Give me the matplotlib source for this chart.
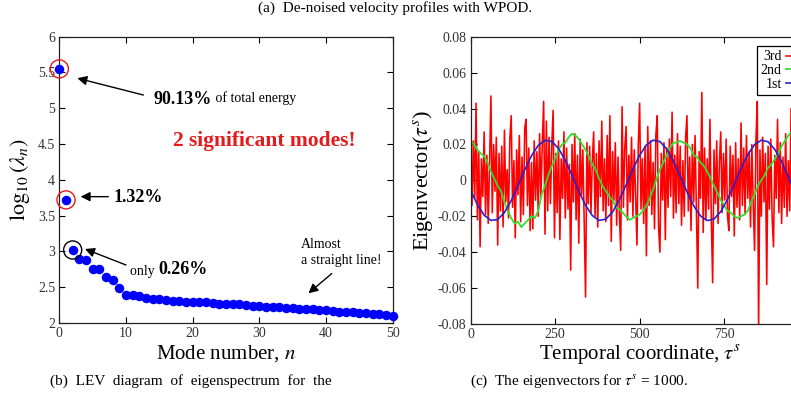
import numpy as np
import matplotlib
matplotlib.use("Agg")
import matplotlib.pyplot as plt

plt.rcParams['font.family'] = ['Liberation Serif', 'DejaVu Serif']
plt.rcParams['mathtext.fontset'] = 'stix'

# (b) eigenspectrum, log10 of eigenvalue per mode
modes = np.arange(51)
log_lev = [5.55, 3.72, 3.02, 2.90, 2.88, 2.75, 2.75, 2.64, 2.60, 2.49,
           2.39, 2.39, 2.38, 2.35, 2.34, 2.33, 2.32, 2.31, 2.31, 2.30,
           2.30, 2.29, 2.29, 2.28, 2.27, 2.27, 2.26, 2.26, 2.25, 2.24,
           2.24, 2.23, 2.23, 2.22, 2.21, 2.21, 2.20, 2.20, 2.19, 2.18,
           2.18, 2.17, 2.16, 2.16, 2.15, 2.14, 2.14, 2.13, 2.12, 2.11,
           2.10]

# (c) eigenvectors (values x 1e-3)
t_blue = np.arange(0, 1001, 20)
first = [-5.6, -13.5, -19.4, -22.3, -21.8, -17.9, -11.3, -3.0, 5.8, 13.7,
         19.5, 22.3, 21.7, 17.8, 11.1, 2.8, -6.0, -13.9, -19.6, -22.3,
         -21.6, -17.6, -10.9, -2.5, 6.2, 14.0, 19.7, 22.4, 21.6, 17.5,
         10.7, 2.3, -6.4, -14.2, -19.8, -22.4, -21.5, -17.4, -10.6, -2.1,
         6.7, 14.4, 19.9, 22.4, 21.5, 17.2, 10.4, 1.9, -6.9, -14.6, -20.0]

t_green = np.arange(0, 1001, 10)
second = [21.5, 20, 17, 15, 13.5, 10, 5, 1, -3, -6,
          -12, -17, -21, -24, -23, -26, -24, -22, -20, -21,
          -17, -8, -3, 3, 8, 12, 17, 20, 21, 24,
          26, 25, 23, 20, 17, 13, 9, 6, 1, -3,
          -6, -9, -11, -15, -16, -18, -20, -22, -21, -20,
          -19, -17, -14, -10, -5, 1, 6, 10, 14, 18,
          21, 21, 22, 21, 20, 18, 14, 13, 10, 8,
          5, 1, -3, -7, -11, -14, -17, -18, -20, -21,
          -20, -19, -17, -12, -8, -3, 0, 3, 7, 9,
          12, 15, 19, 22, 25, 27, 25, 22, 20, 16,
          12]

t_red = np.arange(0, 1001, 4)
third = [8, -14, 22, -10, 43, -22, 16, -37, 12, -9,
         27, -19, 14, -24, 9, 47, -18, 20, -6, 24,
         -36, 15, -17, 19, -26, 28, -12, 6, -21, 23,
         36, -15, 11, -32, 17, -8, 25, -23, 13, -19,
         29, 34, -14, 18, -28, 10, -27, 22, -11, 16,
         -20, 26, -9, 21, 44, -30, 33, -17, 24, -13,
         19, 39, -32, 15, -18, 22, -33, 12, -10, 27,
         -21, 18, -16, 9, -50, 20, -12, 26, -22, 14,
         -35, 23, -8, 17, -24, -65, 21, -13, 19, -18,
         11, 27, -20, 15, -26, 22, -9, 33, -17, 12,
         -23, 25, -14, 36, -34, 16, -11, 21, -25, 13,
         -19, -39, 41, -15, 18, 30, -22, 14, -12, 24,
         -20, 17, -8, -36, 20, 43, -16, 12, -24, 19,
         -42, 30, -14, 22, -19, 10, -27, 25, 36, -26,
         -40, 15, -11, 21, -33, 18, -15, 23, -9, 38,
         -21, 14, -18, 26, -13, 19, -25, 11, -20, 24,
         36, -17, 13, -28, 20, -12, 25, -19, -60, 16,
         -10, 49, -29, 18, -22, 12, -16, 34, -21, -57,
         17, -13, 22, -24, 10, 27, -18, 15, -11, 23,
         -20, -28, 19, -9, 14, -31, 21, -15, 12, -22,
         32, -14, 18, -19, 25, -10, 16, -26, 20, -13,
         -39, 22, 44, -85, 17, -20, 24, -12, 15, -58,
         19, -16, 23, -21, -37, 14, -10, 34, -18, 21,
         -24, 13, -15, 26, -20, 11, -17, 40, -22, 18,
         -12, 24, -19, 15, -26, 21, -8, 17, -23, 12,
         -14]

fig = plt.figure(figsize=(7.91, 4.09), dpi=100)
tick_col = '#333333'

# ---- left panel ----
ax1 = fig.add_axes([0.075, 0.2103, 0.4215, 0.700])
ax1.scatter(modes, log_lev, s=34, color='#0000ff', zorder=3, clip_on=False)
ax1.scatter(modes[:2], log_lev[:2], s=170, facecolors='none', edgecolors='#e41a1c',
            linewidths=1.0, zorder=4, clip_on=False)
ax1.scatter(modes[2:3], log_lev[2:3], s=170, facecolors='none', edgecolors='black',
            linewidths=1.0, zorder=4, clip_on=False)
ax1.set_xlim(0, 50)
ax1.set_ylim(2, 6)
ax1.set_xticks(range(0, 51, 10))
ax1.set_yticks(np.arange(2, 6.01, 0.5))
ax1.set_yticklabels(['2', '2.5', '3', '3.5', '4', '4.5', '5', '5.5', '6'])
ax1.set_xlabel('Mode number, $n$', fontsize=15, labelpad=2)
ax1.set_ylabel(r'$\log_{10}(\lambda_n)$', fontsize=16, labelpad=4)

arrow = dict(arrowstyle='-|>', color='black', lw=1.0, mutation_scale=14,
             shrinkA=0, shrinkB=0)
ax1.annotate('', xy=(2.7, 5.42), xytext=(12.6, 5.185), arrowprops=arrow)
t1 = ax1.text(14.1, 5.12, '90.13%', fontsize=13, fontweight='bold', va='center')
ax1.annotate(' of total energy', xy=(1, 0.18), xycoords=t1, fontsize=10,
             va='bottom')
ax1.annotate('', xy=(3.2, 3.765), xytext=(7.35, 3.765), arrowprops=arrow)
ax1.text(8.1, 3.76, '1.32%', fontsize=13, fontweight='bold', va='center')
ax1.annotate('', xy=(3.85, 3.034), xytext=(10.0, 2.81), arrowprops=arrow)
t2 = ax1.text(10.6, 2.72, 'only ', fontsize=10, va='center')
ax1.annotate('0.26%', xy=(1, 0.0), xycoords=t2, fontsize=13, fontweight='bold',
             va='bottom')
ax1.text(30.7, 4.54, '2 significant modes!', fontsize=15.5, fontweight='bold',
         color='#e41a1c', ha='center', va='center')
ax1.text(36.2, 2.99, 'Almost\na straight line!', fontsize=10, va='center',
         linespacing=1.3)
ax1.annotate('', xy=(37.35, 2.415), xytext=(40.85, 2.69), arrowprops=arrow)

# ---- right panel ----
ax2 = fig.add_axes([0.595, 0.2078, 0.4273, 0.7024])
ax2.plot(t_red, np.array(third) * 1e-3, color='#ff0000', lw=1.15, label='3rd')
ax2.plot(t_green, np.array(second) * 1e-3, color='#2ee02e', lw=1.3, label='2nd')
ax2.plot(t_blue, np.array(first) * 1e-3, color='#2a1fcc', lw=1.2, label='1st')
ax2.set_xlim(0, 1000)
ax2.set_ylim(-0.08, 0.08)
ax2.set_xticks([0, 250, 500, 750])
ax2.set_yticks(np.arange(-0.08, 0.081, 0.02))
ax2.set_yticklabels(['-0.08', '-0.06', '-0.04', '-0.02', '0', '0.02', '0.04',
                     '0.06', '0.08'])
ax2.set_xlabel(r'Temporal coordinate, $\tau^s$', fontsize=15, labelpad=2)
ax2.set_ylabel(r'Eigenvector($\tau^s$)', fontsize=16, labelpad=2)
leg = ax2.legend(loc='upper left', bbox_to_anchor=(0.846, 0.967), fontsize=10,
                 markerfirst=False, fancybox=False, framealpha=1,
                 edgecolor='black', handlelength=2.0, labelspacing=0.05,
                 borderpad=0.3, handletextpad=0.3, borderaxespad=0)
leg.get_frame().set_linewidth(0.9)

for ax in (ax1, ax2):
    ax.tick_params(direction='in', top=True, right=True, length=4,
                   labelsize=10, labelcolor=tick_col, pad=3)
    for sp in ax.spines.values():
        sp.set_linewidth(0.9)
        sp.set_color('#222222')

# captions
fig.text(0.5, 0.998, '(a)  De-noised velocity profiles with WPOD.', fontsize=11,
         ha='center', va='top')
fig.text(0.063, 0.068, '(b)  LEV  diagram  of  eigenspectrum  for  the',
         fontsize=11, va='center')
fig.text(0.594, 0.068, r'(c)  The eigenvectors for $\tau^s$ = 1000.',
         fontsize=11, va='center')

fig.savefig('out.png', dpi=100)
